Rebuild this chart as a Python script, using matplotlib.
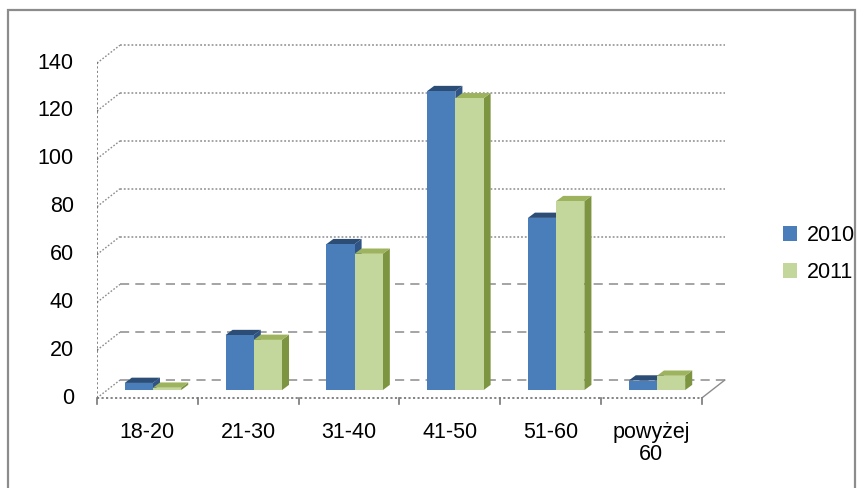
import numpy as np
import matplotlib
matplotlib.use("Agg")
import matplotlib.pyplot as plt
from matplotlib.patches import Polygon, Rectangle, Patch

plt.rcParams['font.family'] = ['Liberation Sans', 'DejaVu Sans']

# age groups and counts per year
categories = ['18-20', '21-30', '31-40', '41-50', '51-60', 'powyżej\n60']
values_2010 = [3, 23, 61, 125, 72, 4]
values_2011 = [1, 21, 57, 122, 79, 6]
series_names = ['2010', '2011']
y_ticks = [0, 20, 40, 60, 80, 100, 120, 140]

# colours: front, side, top
BLUE = ('#4a7ebb', '#2f5485', '#2c4d75')
GREEN = ('#c3d69b', '#7d9440', '#9db35e')
GRID = '#8c8c8c'
DOTS = (0, (1.2, 1.3))

# pseudo-3d geometry (data units)
WALL_DX, WALL_DY = 0.228, 7.5      # back wall offset
BAR_DY = 3.3                        # bars stand in the middle of the floor
BAR_W = 0.28
SIDE_DX, SIDE_DY = 0.07, 2.2        # bar depth
FONT = 15.5

fig = plt.figure(figsize=(8.63, 4.88), dpi=100)
ax = fig.add_axes([97 / 863, 90 / 488, 630 / 863, 354 / 488])
ax.set_xlim(-0.5, 5.75)
ax.set_ylim(0, 148)
ax.axis('off')

n = len(categories)
x = np.arange(n)
x_left, x_right = -0.5, n - 0.5

# back wall gridlines + left wall diagonals
for v in y_ticks:
    style = (0, (6, 4)) if v in (0, 20, 40) else DOTS
    ax.plot([x_left + WALL_DX, x_right + WALL_DX], [v + WALL_DY, v + WALL_DY],
            color=GRID, lw=1.1, ls=style, zorder=1)
    ax.plot([x_left, x_left + WALL_DX], [v, v + WALL_DY],
            color=GRID, lw=1.0, ls=DOTS, zorder=1)
    ax.plot([x_left - 0.05, x_left], [v, v], color='#777777', lw=1.6, zorder=2)
    ax.text(x_left - 0.23, v, str(v), ha='right', va='center', fontsize=FONT)

# front left axis and floor
ax.plot([x_left, x_left], [0, 140], color='#7a7a7a', lw=1.3, ls=DOTS, zorder=2)
ax.plot([x_left, x_right], [0, 0], color='#7a7a7a', lw=1.3, ls=DOTS, zorder=2,
        clip_on=False)
ax.plot([x_right, x_right + WALL_DX], [0, WALL_DY], color=GRID, lw=1.0, zorder=2)
for b in np.arange(x_left, x_right + 0.01):
    ax.plot([b, b], [0, -2.5], color='#777777', lw=1.2, zorder=2, clip_on=False)

for i, cat in enumerate(categories):
    ax.text(i, -10, cat, ha='center', va='top', fontsize=FONT, linespacing=1.05)


def draw_bar(xc, h, colors, z):
    front, side, top = colors
    x0, x1 = xc - BAR_W / 2, xc + BAR_W / 2
    y0, y1 = BAR_DY, BAR_DY + h
    ax.add_patch(Polygon([(x1, y0), (x1 + SIDE_DX, y0 + SIDE_DY),
                          (x1 + SIDE_DX, y1 + SIDE_DY), (x1, y1)],
                         closed=True, fc=side, ec='none', zorder=z))
    ax.add_patch(Polygon([(x0, y1), (x0 + SIDE_DX, y1 + SIDE_DY),
                          (x1 + SIDE_DX, y1 + SIDE_DY), (x1, y1)],
                         closed=True, fc=top, ec='none', zorder=z))
    ax.bar(xc, h, width=BAR_W, bottom=BAR_DY, color=front, zorder=z + 0.5)


for i in range(n):
    draw_bar(x[i] - 0.085, values_2010[i], BLUE, 3)
    draw_bar(x[i] + 0.195, values_2011[i], GREEN, 4)

# legend
handles = [Patch(fc=BLUE[0]), Patch(fc=GREEN[0])]
fig.legend(handles, series_names, loc='center left',
           bbox_to_anchor=(772 / 863, 1 - 254 / 488), frameon=False,
           fontsize=FONT, handlelength=0.65, handleheight=0.65,
           handletextpad=0.45, labelspacing=0.75, borderpad=0)

# outer chart frame
fig.add_artist(Rectangle((8 / 863, -0.02), 847 / 863, 1.02 - 10 / 488,
                         transform=fig.transFigure, fill=False,
                         ec='#8c8c8c', lw=1.6))

fig.savefig('out.png', dpi=100)
